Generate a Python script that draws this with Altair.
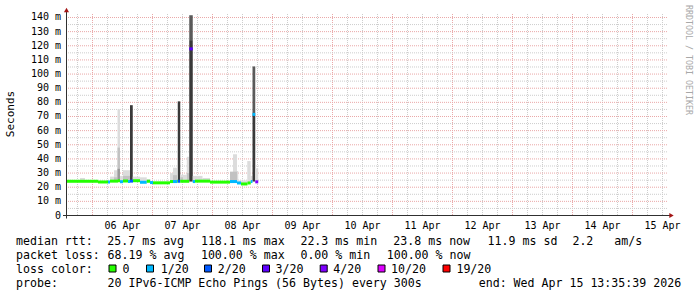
import altair as alt
import pandas as pd

# ---------------- values ----------------
# time: hours since 2026-04-05 00:00 ; rtt in milliseconds
med_start = [13.8, 26.2, 30.2, 31.0, 34.2, 35.0, 36.2, 38.2, 39.0, 40.2,
             43.0, 45.7, 47.0, 48.2, 55.0, 56.2, 57.8, 58.1, 59.1, 62.7,
             64.1, 65.0, 71.0, 79.0, 81.8, 83.4, 86.0, 87.3, 88.0, 89.1]
med_end = [26.2, 30.2, 31.0, 34.2, 35.0, 36.2, 38.2, 39.0, 40.2, 43.0,
           45.7, 47.0, 48.2, 55.0, 56.2, 57.8, 58.1, 59.1, 62.7, 64.1,
           65.0, 71.0, 79.0, 81.8, 83.4, 86.0, 87.3, 88.0, 89.1, 90.3]
med_rtt = [24.2, 23.7, 23.7, 24.3, 24.6, 23.9, 24.4, 24.0, 24.3, 24.6,
           23.5, 24.2, 23.3, 23.1, 24.0, 24.0, 24.2, 24.2, 24.2, 117.8,
           24.0, 24.3, 23.6, 24.0, 23.0, 22.3, 23.0, 24.0, 71.5, 23.8]
med_loss = ["0", "0", "1/20", "0", "0", "1/20", "0", "1/20", "2/20", "0",
            "1/20", "0", "1/20", "0", "0", "1/20", "0", "2/20", "0", "3/20",
            "1/20", "0", "0", "1/20", "1/20", "0", "0", "1/20", "1/20", "4/20"]

# smoke (spread of the individual pings), shade 1 = lightest ... 5 = darkest
smoke_start = [19.0, 31.0, 32.6, 32.6, 34.0, 34.0, 34.0, 35.0, 36.2, 36.2,
               39.0, 40.1, 43.0, 45.7, 55.0, 56.2, 56.2, 58.1, 59.1, 59.1,
               61.7, 61.7, 62.7, 62.7, 64.1, 68.0, 79.0, 80.2, 80.2, 81.8,
               82.3, 85.9, 87.3, 88.0, 88.0, 89.1]
smoke_end = [21.0, 32.6, 34.0, 34.0, 35.0, 35.0, 35.0, 36.2, 39.0, 39.0,
             40.1, 43.0, 45.7, 47.0, 56.2, 57.8, 57.8, 59.1, 61.7, 60.2,
             62.7, 62.7, 64.1, 64.1, 68.0, 71.0, 80.2, 81.8, 81.8, 82.3,
             85.9, 87.3, 88.0, 89.1, 89.1, 90.3]
smoke_low = [24.2, 24.3, 24.3, 24.3, 24.6, 24.6, 24.6, 23.9, 24.4, 24.4,
             24.3, 24.6, 23.5, 24.2, 24.0, 24.0, 24.0, 24.2, 24.2, 24.2,
             24.2, 24.2, 24.0, 124.0, 24.2, 24.2, 24.0, 24.0, 24.0, 23.0,
             22.3, 22.6, 24.0, 24.0, 71.5, 23.8]
smoke_high = [26.5, 27.5, 32.0, 27.0, 75.1, 48.0, 33.0, 28.0, 32.0, 28.0,
              78.0, 27.5, 27.0, 25.8, 30.0, 33.8, 28.5, 80.7, 28.8, 27.0,
              41.5, 30.0, 124.0, 141.6, 28.0, 26.5, 31.0, 43.3, 31.0, 31.5,
              24.8, 38.5, 28.0, 71.5, 105.4, 33.4]
smoke_shade = [1, 1, 1, 2, 1, 2, 3, 1, 1, 2,
               5, 1, 1, 1, 1, 1, 2, 5, 1, 2,
               1, 2, 5, 4, 1, 1, 2, 1, 2, 1,
               1, 1, 1, 5, 4, 1]

y_ticks = [0, 10, 20, 30, 40, 50, 60, 70, 80, 90, 100, 110, 120, 130, 140]
y_labels = ["0\u00a0\u00a0", "10 m", "20 m", "30 m", "40 m", "50 m", "60 m", "70 m",
            "80 m", "90 m", "100 m", "110 m", "120 m", "130 m", "140 m"]
y_minor = [5, 15, 25, 35, 45, 55, 65, 75, 85, 95, 105, 115, 125, 135]
x_label_hours = [36, 60, 84, 108, 132, 156, 180, 204, 228, 252]
x_labels = ["06 Apr", "07 Apr", "08 Apr", "09 Apr", "10 Apr",
            "11 Apr", "12 Apr", "13 Apr", "14 Apr", "15 Apr"]
x_major = [24, 48, 72, 96, 120, 144, 168, 192, 216, 240]
x_minor = [18, 30, 36, 42, 54, 60, 66, 78, 84, 90, 102, 108, 114, 126, 132, 138,
           150, 156, 162, 174, 180, 186, 198, 204, 210, 222, 228, 234, 246, 252]

loss_labels = ["0", "1/20", "2/20", "3/20", "4/20", "10/20", "19/20"]
rtt_stats = ["25.7 ms avg", "118.1 ms max", "22.3 ms min", "23.8 ms now",
             "11.9 ms sd", "2.2", "am/s"]
loss_stats = ["68.19 % avg", "100.00 % max", "0.00 % min", "100.00 % now"]
probe_desc = "20 IPv6-ICMP Echo Pings (56 Bytes) every 300s"
end_text = "end: Wed Apr 15 13:35:39 2026"

# ---------------- layout / style ----------------
W, H = 600, 201.5
PL, PT = 67, 14
MONO = "DejaVu Sans Mono"
LOSS_RANGE = ["#26ff00", "#00b8ff", "#0059ff", "#5e00ff", "#7e00ff", "#dd00ff", "#ff0000"]
SHADE_RANGE = ["#dcdcdc", "#c2c2c2", "#9a9a9a", "#5a5a5a", "#393939"]
GRID_MINOR = "#cdcdcd"
GRID_MAJOR = "#eaa8a8"


def rx(v):
    return v - PL


def ry(v):
    return v - PT


xs = alt.Scale(domain=[13.8, 253.8], nice=False, zero=False)
ys = alt.Scale(domain=[0, 142.47], nice=False, zero=False)
loss_scale = alt.Scale(domain=loss_labels, range=LOSS_RANGE)
shade_scale = alt.Scale(domain=[1, 2, 3, 4, 5], range=SHADE_RANGE)

one = pd.DataFrame({"k": [0]})

grid_minor_v = alt.Chart(pd.DataFrame({"h": x_minor})).mark_rule(
    stroke=GRID_MINOR, strokeDash=[1, 1], strokeWidth=1).encode(
    x=alt.X("h:Q", scale=xs, axis=None))
grid_major_v = alt.Chart(pd.DataFrame({"h": x_major})).mark_rule(
    stroke=GRID_MAJOR, strokeDash=[1, 1], strokeWidth=1).encode(
    x=alt.X("h:Q", scale=xs, axis=None))
grid_minor_h = alt.Chart(pd.DataFrame({"v": y_minor})).mark_rule(
    stroke=GRID_MINOR, strokeDash=[1, 1], strokeWidth=1).encode(
    y=alt.Y("v:Q", scale=ys, axis=None))
grid_major_h = alt.Chart(pd.DataFrame({"v": y_ticks[1:]})).mark_rule(
    stroke=GRID_MAJOR, strokeDash=[1, 1], strokeWidth=1).encode(
    y=alt.Y("v:Q", scale=ys, axis=None))

smoke_df = pd.DataFrame({"t0": smoke_start, "t1": smoke_end, "lo": smoke_low,
                         "hi": smoke_high, "shade": smoke_shade})
smoke = alt.Chart(smoke_df).mark_rect(strokeWidth=0).encode(
    x=alt.X("t0:Q", scale=xs, axis=None), x2="t1:Q",
    y=alt.Y("lo:Q", scale=ys, axis=None), y2="hi:Q",
    fill=alt.Fill("shade:O", scale=shade_scale, legend=None))

med_df = pd.DataFrame({"t0": med_start, "t1": med_end, "rtt": med_rtt, "loss": med_loss})
median = alt.Chart(med_df).mark_rule(strokeWidth=3, strokeCap="butt").encode(
    x=alt.X("t0:Q", scale=xs, axis=None), x2="t1:Q",
    y=alt.Y("rtt:Q", scale=ys, axis=None),
    color=alt.Color("loss:N", scale=loss_scale, legend=None))

# tick labels placed through the scales
xlab = alt.Chart(pd.DataFrame({"h": x_label_hours, "lab": x_labels})).mark_text(
    font=MONO, fontSize=10, align="center", baseline="middle", color="#000").encode(
    x=alt.X("h:Q", scale=xs, axis=None), y=alt.value(H + 10.2), text="lab:N")
ylab = alt.Chart(pd.DataFrame({"v": y_ticks, "lab": y_labels})).mark_text(
    font=MONO, fontSize=10, align="right", baseline="middle", color="#000").encode(
    y=alt.Y("v:Q", scale=ys, axis=None), x=alt.value(-6), text="lab:N")

AX = "#303030"
yaxis_line = alt.Chart(one).mark_rule(stroke=AX, strokeWidth=1).encode(
    x=alt.value(-0.5), y=alt.value(-3), y2=alt.value(H + 3))
xaxis_line = alt.Chart(one).mark_rule(stroke=AX, strokeWidth=1).encode(
    x=alt.value(-4), x2=alt.value(W + 3), y=alt.value(H))
arrow_up = alt.Chart(one).mark_point(shape="triangle-up", filled=True, size=26,
                                     color="#a31515", opacity=1).encode(
    x=alt.value(-0.5), y=alt.value(-4))
arrow_right = alt.Chart(one).mark_point(shape="triangle-right", filled=True, size=26,
                                        color="#a31515", opacity=1).encode(
    x=alt.value(W + 4.5), y=alt.value(H))

# footer texts (absolute page positions kept as layout)
foot_text = (["median rtt:"] + rtt_stats + ["packet loss:"] + loss_stats +
             ["loss color:"] + loss_labels + ["probe:", probe_desc, end_text])
foot_x = ([16, 107.3, 200.9, 300.4, 393.3, 487.6, 572.4, 614.2] +
          [16, 107.6, 200.9, 300.4, 386.7] +
          [16, 122.5, 160.8, 217.8, 275.6, 333.3, 391.1, 456.4] +
          [16, 107.6, 478.7])
foot_y = [241.7] * 8 + [256.2] * 5 + [269.7] * 8 + [284.0] * 3
foot_df = pd.DataFrame({"text": foot_text, "px": [rx(v) for v in foot_x],
                        "py": [ry(v) for v in foot_y]})
footer = alt.Chart(foot_df).mark_text(align="left", baseline="middle", font=MONO,
                                      fontSize=11.6, color="#000").encode(
    x=alt.X("px:Q", scale=None, axis=None), y=alt.Y("py:Q", scale=None, axis=None),
    text="text:N")

box_left = [109, 146.5, 204.5, 262.5, 320.2, 378, 443]
box_df = pd.DataFrame({"loss": loss_labels,
                       "bx0": [rx(v) for v in box_left],
                       "bx1": [rx(v + 7) for v in box_left],
                       "by0": [ry(265)] * 7, "by1": [ry(272)] * 7})
boxes = alt.Chart(box_df).mark_rect(stroke="#000", strokeWidth=1).encode(
    x=alt.X("bx0:Q", scale=None, axis=None), x2="bx1:Q",
    y=alt.Y("by0:Q", scale=None, axis=None), y2="by1:Q",
    color=alt.Color("loss:N", scale=loss_scale, legend=None))

ytitle = alt.Chart(one).mark_text(text="Seconds", angle=270, font=MONO, fontSize=11,
                                  align="center", baseline="middle", color="#000").encode(
    x=alt.value(rx(10.7)), y=alt.value(ry(114)))
watermark = alt.Chart(one).mark_text(text="RRDTOOL / TOBI OETIKER", angle=90, font=MONO,
                                     fontSize=8.3, align="left", baseline="middle",
                                     color="#a8a8a8").encode(
    x=alt.value(rx(687.5)), y=alt.value(ry(5)))

chart = alt.layer(
    grid_minor_v, grid_major_v, grid_minor_h, grid_major_h,
    smoke, median, yaxis_line, xaxis_line, arrow_up, arrow_right,
    xlab, ylab, footer, boxes, ytitle, watermark,
).properties(
    width=W, height=H,
    autosize=alt.AutoSizeParams(type="none"),
    padding={"left": PL, "top": PT, "right": 697 - PL - W, "bottom": 297 - PT - H},
    background="white",
).configure_view(stroke=None)

chart.save("out.html", embed_options={"renderer": "svg", "actions": False})
